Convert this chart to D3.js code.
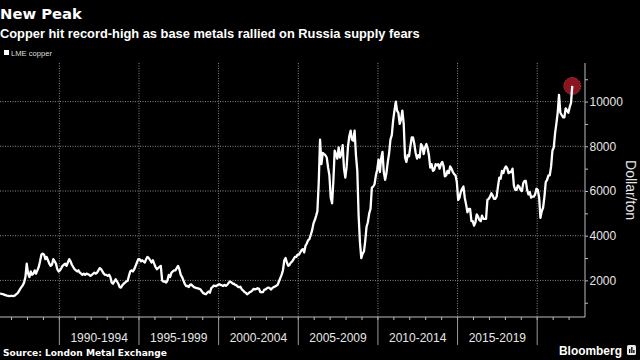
<!DOCTYPE html>
<html><head><meta charset="utf-8">
<script src="https://cdn.jsdelivr.net/npm/d3@7"></script>
<style>html,body{margin:0;padding:0;background:#000;}svg{display:block}</style>
</head><body><svg id="c" width="640" height="360"></svg>
<script>
const titleText = "New Peak";
const subtitleText = "Copper hit record-high as base metals rallied on Russia supply fears";
const seriesName = "LME copper";
const sourceText = "Source: London Metal Exchange";
const brandText = "Bloomberg";
const yLabel = "Dollar/ton";

// Monthly LME copper (USD/ton), starting April 1986
const firstMonth = "1986-04-15";
const copper1980s = [
  1420,1400,1390,1360,1340,1320,1310,1300,1310,
  1310,1300,1320,1370,1420,1500,1610,1700,1780,1900,2150,2750,
  2300,2150,2400,2250,2300,2450,2300,2450,2600,2850,3150,3200,
  3150,2950,3050,2900,2750,2650,2700,2950,2850,2750,2500,2400];
const copper1990s = [
  2450,2550,2650,2700,2750,2650,2800,2950,2850,2700,2600,2500,
  2450,2400,2450,2350,2300,2250,2300,2250,2300,2280,2250,2200,
  2250,2300,2350,2300,2350,2450,2550,2500,2400,2300,2250,2250,
  2200,2250,2150,1900,1850,1950,2050,1950,1850,1700,1680,1780,
  1850,1900,1950,1980,2200,2400,2450,2400,2500,2650,2800,2950,
  2950,2850,2900,2850,2800,2950,3050,3000,2900,2800,2900,2750,
  2600,2500,2550,2600,2650,2000,1950,1950,1900,2000,2250,2150,
  2350,2400,2450,2450,2550,2650,2500,2250,2150,2000,1850,1750,
  1750,1700,1800,1820,1750,1700,1680,1650,1640,1620,1590,1500,
  1430,1400,1380,1450,1500,1450,1650,1700,1770,1750,1750,1800];
const copper2000s = [
  1830,1800,1780,1750,1800,1760,1800,1880,1950,1920,1860,1850,
  1800,1780,1720,1690,1720,1600,1550,1480,1450,1380,1420,1470,
  1500,1560,1620,1600,1620,1650,1620,1480,1470,1480,1590,1600,
  1650,1680,1660,1590,1650,1700,1720,1760,1800,1950,2100,2250,
  2450,2900,3000,2800,2650,2700,2800,2850,2950,3050,3050,3150,
  3150,3250,3350,3400,3250,3550,3650,3800,3850,4050,4250,4550,
  4700,4900,5100,6400,8300,7200,7700,7650,7600,7500,7050,6700,
  5700,5450,6400,7800,7650,7450,7950,7500,7650,8050,7000,6600,
  7100,8000,8450,8700,8300,8250,8700,7600,6900,4900,3700,3000,
  3200,3300,3750,4400,4600,5000,5200,6150,6200,6300,6700,6950];
const copper2010s = [
  7400,6850,7450,7750,6850,6500,6800,7300,7700,8300,8500,9150,
  9600,10000,9600,9500,9000,9200,9600,9000,7500,7300,7600,7550,
  8000,8400,8400,8100,7700,7450,7600,7500,8100,8000,7650,7950,
  8100,7900,7600,7050,7200,6900,6950,7200,7150,7200,7000,7200,
  7300,7100,6650,6700,6900,6800,7100,7000,6850,6750,6700,6400,
  5600,5700,5950,6100,6200,5700,5400,5050,5200,5200,4650,4650,
  4450,4600,4950,4850,4700,4650,4900,4750,4750,4750,5600,5650,
  5750,5900,5800,5650,5650,5750,6200,6600,6550,6900,6800,7000,
  7100,7000,6800,6850,6850,7000,6250,6050,6050,6250,6200,6050,
  6000,6350,6450,6450,6050,5850,5950,5700,5750,5750,5850,6100];
const copper2020s = [
  6050,5700,4800,5100,5250,5750,6400,6500,6700,6700,7100,7800,
  7950,8600,9000,9500,10300,9500,9400,9300,9300,9700,9600,9500,
  9750,9950,10700];

const yTicks = [2000,4000,6000,8000,10000];
const periodStarts = [1990,1995,2000,2005,2010,2015];
const periodLabels = ["1990-1994","1995-1999","2000-2004","2005-2009","2010-2014","2015-2019"];

const values = [].concat(copper1980s, copper1990s, copper2000s, copper2010s, copper2020s);
const start = d3.timeParse("%Y-%m-%d")(firstMonth);
const data = values.map((v,i)=>({date: d3.timeMonth.offset(start, i), value: v}));

const svg = d3.select("#c");
const W = 640, H = 360;
svg.append("rect").attr("width",W).attr("height",H).attr("fill","#000");

const plotLeft = 0, plotRight = 585, plotTop = 63, plotBottom = 317;
const x = d3.scaleTime().domain([new Date(1986,3,11), new Date(2023,0,1)]).range([plotLeft, plotRight]);
const y = d3.scaleLinear().domain([362, 11727]).range([plotBottom, plotTop]);

function fit(sel, target){
  const w = sel.node().getComputedTextLength();
  const fs = parseFloat(sel.attr("font-size"));
  sel.attr("font-size", (fs*target/w).toFixed(2));
  return sel;
}

// titles
fit(svg.append("text").attr("x",0).attr("y",18.5).attr("fill","#fff")
  .attr("font-family","DejaVu Sans").attr("font-weight","bold").attr("font-size",15)
  .text(titleText), 82);
fit(svg.append("text").attr("x",0).attr("y",37.5).attr("fill","#fff")
  .attr("font-family","Liberation Sans").attr("font-weight","bold").attr("font-size",13)
  .text(subtitleText), 420);

// legend
svg.append("rect").attr("x",4).attr("y",50).attr("width",5).attr("height",5).attr("fill","#fff");
fit(svg.append("text").attr("x",11).attr("y",55.5).attr("fill","#ddd")
  .attr("font-family","Liberation Sans").attr("font-size",10).text(seriesName), 41);

// gridlines
const grid = svg.append("g");
grid.selectAll("line.h").data(yTicks).join("line")
  .attr("x1",plotLeft).attr("x2",plotRight)
  .attr("y1",d=>y(d)).attr("y2",d=>y(d))
  .attr("stroke","#8a8a8a").attr("stroke-width",1).attr("stroke-dasharray","1,1.5");
const majorYears = periodStarts.concat([2020]);
grid.selectAll("line.v").data(majorYears).join("line")
  .attr("x1",d=>x(new Date(d,0,1))).attr("x2",d=>x(new Date(d,0,1)))
  .attr("y1",plotTop).attr("y2",plotBottom)
  .attr("stroke","#8a8a8a").attr("stroke-width",1).attr("stroke-dasharray","1,1.5");

// x axis
const xAxisG = svg.append("g");
xAxisG.append("line").attr("x1",plotLeft).attr("x2",plotRight).attr("y1",plotBottom).attr("y2",plotBottom)
  .attr("stroke","#bdbdbd").attr("stroke-width",1);
const yearTicks = d3.timeYear.range(new Date(1987,0,1), new Date(2023,0,1));
xAxisG.selectAll("line.t").data(yearTicks).join("line")
  .attr("x1",d=>x(d)).attr("x2",d=>x(d)).attr("y1",plotBottom).attr("y2",plotBottom+3)
  .attr("stroke","#bdbdbd");
xAxisG.selectAll("line.m").data(majorYears).join("line")
  .attr("x1",d=>x(new Date(d,0,1))).attr("x2",d=>x(new Date(d,0,1)))
  .attr("y1",plotBottom).attr("y2",345).attr("stroke","#9a9a9a");
xAxisG.selectAll("text").data(periodLabels).join("text")
  .attr("x",(d,i)=>x(new Date(periodStarts[i]+2,6,1)))
  .attr("y",341.5).attr("text-anchor","middle").attr("fill","#e6e6e6")
  .attr("font-family","Liberation Sans").attr("font-size",12).text(d=>d);

// y axis (right)
const yAxis = d3.axisRight(y).tickValues(d3.range(1000, 11001, 1000)).tickSize(3)
  .tickFormat(d => yTicks.includes(d) ? d3.format("d")(d) : "");
const yg = svg.append("g").attr("transform",`translate(${plotRight},0)`).call(yAxis);
yg.select(".domain").attr("stroke","#bdbdbd").attr("d",`M0,${plotTop}V${plotBottom}`);
yg.selectAll(".tick line").attr("stroke","#bdbdbd");
yg.selectAll(".tick text").attr("fill","#e6e6e6").attr("font-family","Liberation Sans")
  .attr("font-size",12).attr("x",4.5);
svg.append("text").attr("transform",`translate(626,190) rotate(90)`)
  .attr("text-anchor","middle").attr("fill","#e6e6e6")
  .attr("font-family","Liberation Sans").attr("font-size",14).text(yLabel);

// highlight circle at last point
const last = data[data.length-1];
svg.append("circle").attr("cx",x(last.date)).attr("cy",y(last.value)).attr("r",8.5)
  .attr("fill","#8c1420").attr("stroke","#c84050").attr("stroke-width",1).attr("stroke-dasharray","1,1");

// line
const line = d3.line().x(d=>x(d.date)).y(d=>y(d.value));
svg.append("path").datum(data).attr("d",line).attr("fill","none")
  .attr("stroke","#fff").attr("stroke-width",2.3).attr("stroke-linejoin","round");

// footer
fit(svg.append("text").attr("x",3).attr("y",356).attr("fill","#fff")
  .attr("font-family","DejaVu Sans").attr("font-weight","bold").attr("font-size",10)
  .text(sourceText), 164);
fit(svg.append("text").attr("x",559).attr("y",355).attr("fill","#fff")
  .attr("font-family","Liberation Sans").attr("font-weight","bold").attr("font-size",13)
  .text(brandText), 63);
const icon = svg.append("g").attr("transform","translate(627,345)");
icon.append("rect").attr("width",9).attr("height",10).attr("rx",1.5).attr("fill","#e8e8e8");
icon.append("rect").attr("x",2).attr("y",4).attr("width",1.3).attr("height",4).attr("fill","#000");
icon.append("rect").attr("x",4.2).attr("y",2).attr("width",1.3).attr("height",6).attr("fill","#000");
icon.append("rect").attr("x",6.2).attr("y",5).attr("width",1.3).attr("height",3).attr("fill","#000");
</script></body></html>
